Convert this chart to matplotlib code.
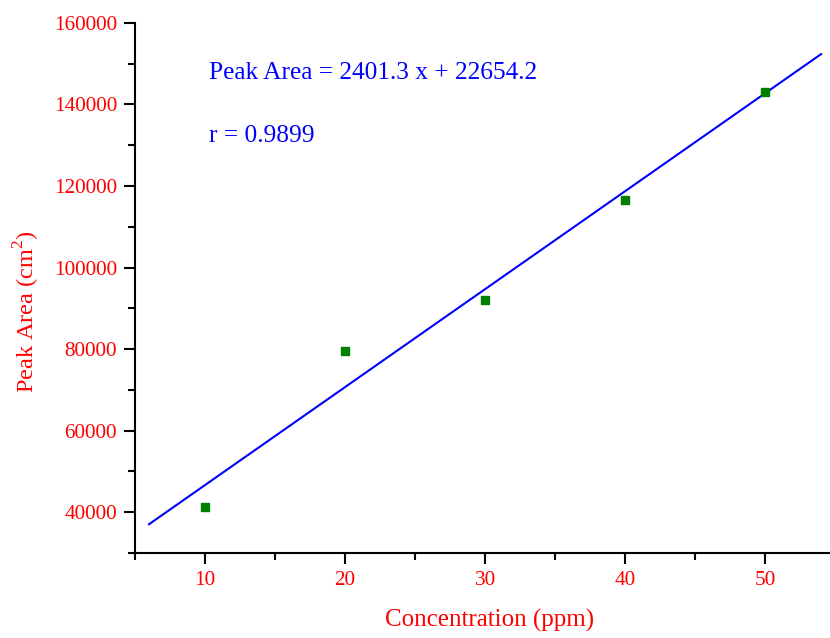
import numpy as np
import matplotlib
matplotlib.use('Agg')
import matplotlib.pyplot as plt
from matplotlib.ticker import MultipleLocator

plt.rcParams['font.family'] = ['Liberation Serif', 'DejaVu Serif']
plt.rcParams['mathtext.fontset'] = 'custom'
plt.rcParams['mathtext.rm'] = 'Liberation Serif'

conc = [10, 20, 30, 40, 50]
peak_area = [41230, 79500, 92020, 116560, 143070]
slope = 2401.3
intercept = 22654.2
r_value = 0.9899
fit_range = [6, 54]

fig = plt.figure(figsize=(8.3, 6.38), dpi=100)
ax = fig.add_axes([0.1627, 0.1332, 0.8373, 0.831])

fx = np.array(fit_range)
ax.plot(fx, slope * fx + intercept, color='#0000ff', lw=1.5)
ax.plot(conc, peak_area, 's', color='#008000', ms=5.5, mec='#008000')

ax.set_xlim(5, 54.64)
ax.set_ylim(30000, 160000)
ax.xaxis.set_major_locator(MultipleLocator(10))
ax.xaxis.set_minor_locator(MultipleLocator(5))
ax.yaxis.set_major_locator(MultipleLocator(20000))
ax.yaxis.set_minor_locator(MultipleLocator(10000))

for s in ['top', 'right']:
    ax.spines[s].set_visible(False)
for s in ['left', 'bottom']:
    ax.spines[s].set_linewidth(1.5)

ax.tick_params(which='major', direction='out', length=8, width=1.5,
               labelsize=15.3, labelcolor='red', pad=5)
ax.tick_params(which='minor', direction='out', length=5, width=1.5)

ax.set_xlabel('Concentration (ppm)', color='red', fontsize=18, va='center')
ax.set_ylabel('Peak Area (cm$^2$)', color='red', fontsize=17.5, va='center')
ax.xaxis.set_label_coords(0.51, -0.128)
ax.yaxis.set_label_coords(-0.155, 0.455)

ax.text(0.1065, 0.906, 'Peak Area = %.1f x + %.1f' % (slope, intercept),
        transform=ax.transAxes, color='#0000ff', fontsize=18.3, va='center')
ax.text(0.1065, 0.787, 'r = %.4f' % r_value,
        transform=ax.transAxes, color='#0000ff', fontsize=18.3, va='center')

plt.savefig('out.png', dpi=100)
